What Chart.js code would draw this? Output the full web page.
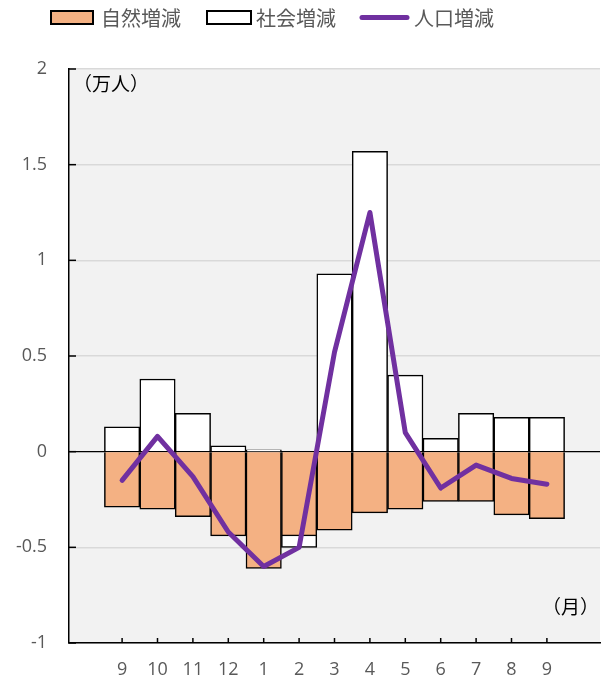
<!DOCTYPE html>
<html>
<head>
<meta charset="utf-8">
<script src="https://cdn.jsdelivr.net/npm/chart.js@4"></script>
<style>
  body { margin: 0; background: #fff; }
  #wrap { width: 602px; height: 679px; }
</style>
</head>
<body>
<div id="wrap"><canvas id="myChart" width="602" height="679"></canvas></div>
<script>
// months (Sep -> Sep), unit: 10k people
const months = ['9', '10', '11', '12', '1', '2', '3', '4', '5', '6', '7', '8', '9'];
const natural = [-0.29, -0.30, -0.34, -0.44, -0.61, -0.44, -0.41, -0.32, -0.30, -0.26, -0.26, -0.33, -0.35];
const social = [0.13, 0.38, 0.20, 0.03, 0.01, -0.06, 0.93, 1.57, 0.40, 0.07, 0.20, 0.18, 0.18];
const total = [-0.15, 0.08, -0.13, -0.42, -0.60, -0.50, 0.52, 1.25, 0.10, -0.19, -0.07, -0.14, -0.17];
const yTicks = [-1, -0.5, 0, 0.5, 1, 1.5, 2];

const labelNames = ['自然増減', '社会増減', '人口増減'];

// empty slot on each side like the original sheet
const pad = arr => [null, ...arr, null];
const labels = ['', ...months, ''];

const TXT = '#595959';
const CJK = '"Noto Sans CJK JP", "Noto Sans", sans-serif';
const NUM = '"Open Sans", "Noto Sans", sans-serif';

const bgPlugin = {
  id: 'bg',
  beforeDraw(chart) {
    const { ctx, chartArea: a } = chart;
    ctx.save();
    ctx.fillStyle = '#f2f2f2';
    ctx.fillRect(a.left, a.top, a.right - a.left, a.bottom - a.top);
    ctx.restore();
  }
};

const extras = {
  id: 'extras',
  afterDraw(chart) {
    const { ctx, chartArea: a } = chart;
    const xs = chart.scales.x, ys = chart.scales.y;
    ctx.save();
    // inner tick marks
    ctx.strokeStyle = '#000';
    ctx.lineWidth = 1.5;
    yTicks.forEach(v => {
      const y = ys.getPixelForValue(v);
      ctx.beginPath(); ctx.moveTo(a.left, y); ctx.lineTo(a.left + 7, y); ctx.stroke();
    });
    months.forEach((m, i) => {
      const x = xs.getPixelForValue(i + 1);
      ctx.beginPath(); ctx.moveTo(x, a.bottom); ctx.lineTo(x, a.bottom - 5); ctx.stroke();
    });

    // unit labels
    ctx.fillStyle = '#000';
    ctx.font = '19px ' + CJK;
    ctx.textBaseline = 'middle';
    ctx.textAlign = 'left';
    ctx.fillText('（万人）', a.left + 4, 84);
    ctx.textAlign = 'right';
    ctx.fillText('（月）', 599, 607);

    // legend
    ctx.font = '20px ' + CJK;
    ctx.textAlign = 'left';
    ctx.lineWidth = 2;
    ctx.strokeStyle = '#000';
    ctx.fillStyle = '#F4B183';
    ctx.fillRect(51, 11, 42, 13); ctx.strokeRect(51, 11, 42, 13);
    ctx.fillStyle = '#fff';
    ctx.fillRect(207, 11, 44, 13); ctx.strokeRect(207, 11, 44, 13);
    ctx.strokeStyle = '#7030A0';
    ctx.lineWidth = 5;
    ctx.lineCap = 'round';
    ctx.beginPath(); ctx.moveTo(362, 17.5); ctx.lineTo(407, 17.5); ctx.stroke();
    ctx.fillStyle = TXT;
    ctx.fillText(labelNames[0], 101, 18);
    ctx.fillText(labelNames[1], 256, 18);
    ctx.fillText(labelNames[2], 414, 18);
    ctx.restore();
  }
};

new Chart(document.getElementById('myChart'), {
  type: 'bar',
  data: {
    labels: labels,
    datasets: [
      {
        label: labelNames[0],
        data: pad(natural),
        backgroundColor: '#F4B183',
        borderColor: '#000',
        borderWidth: 1.5,
        stack: 'bars',
        categoryPercentage: 1,
        barPercentage: 1
      },
      {
        label: labelNames[1],
        data: pad(social),
        backgroundColor: '#fff',
        borderColor: '#000',
        borderWidth: 1.5,
        stack: 'bars',
        categoryPercentage: 1,
        barPercentage: 1
      },
      {
        type: 'line',
        label: labelNames[2],
        data: pad(total),
        borderColor: '#7030A0',
        backgroundColor: '#7030A0',
        borderWidth: 5,
        borderCapStyle: 'round',
        borderJoinStyle: 'round',
        pointRadius: 0,
        tension: 0,
        stack: 'pop',
        order: -1
      }
    ]
  },
  options: {
    responsive: false,
    animation: false,
    layout: { padding: { top: 69, right: 2, bottom: 0, left: 0 } },
    plugins: {
      legend: { display: false },
      tooltip: { enabled: false }
    },
    scales: {
      x: {
        stacked: true,
        offset: true,
        grid: { display: false },
        border: { color: '#000', width: 1.5 },
        ticks: {
          color: TXT,
          font: { family: NUM, size: 18 },
          autoSkip: false,
          maxRotation: 0,
          padding: 8
        },
        afterFit: s => { s.height = 36; }
      },
      y: {
        stacked: true,
        min: -1,
        max: 2,
        grid: {
          color: c => (c.tick && c.tick.value === 0) ? '#000' : '#d9d9d9',
          lineWidth: c => (c.tick && c.tick.value === 0) ? 1.2 : 1.5,
          drawTicks: false
        },
        border: { color: '#000', width: 1.5 },
        ticks: {
          stepSize: 0.5,
          color: TXT,
          font: { family: NUM, size: 18 },
          padding: 22,
          callback: v => String(v)
        },
        afterFit: s => { s.width = 69; }
      }
    }
  },
  plugins: [bgPlugin, extras]
});
</script>
</body>
</html>
